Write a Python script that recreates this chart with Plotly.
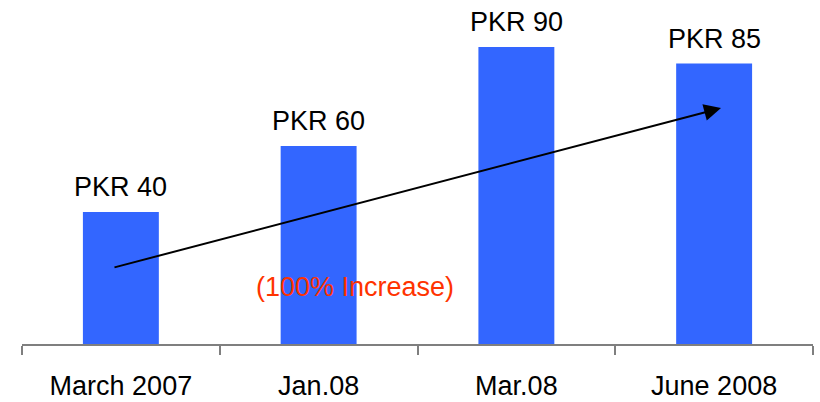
import plotly.graph_objects as go

# Share price by period
categories = ["March 2007", "Jan.08", "Mar.08", "June 2008"]
prices = [40, 60, 90, 85]
price_labels = ["PKR 40", "PKR 60", "PKR 90", "PKR 85"]

# Trend arrow (category index, price units) and its caption
trend_start = (-0.04, 23.1)
trend_end = (3.035, 71.5)
trend_caption = "(100% Increase)"
caption_pos = (1.185, 17.3)

FONT = "Liberation Sans, Arial, sans-serif"
BAR_COLOR = "#3366FF"

fig = go.Figure()
fig.add_trace(go.Bar(
    x=categories,
    y=prices,
    marker=dict(color=BAR_COLOR, line=dict(width=0)),
    hoverinfo="skip",
))

# Value labels above each bar
for cat, val, lab in zip(categories, prices, price_labels):
    fig.add_annotation(
        x=cat, y=val, text=lab, showarrow=False,
        xref="x", yref="y", yanchor="bottom", yshift=8,
        font=dict(family=FONT, size=27, color="#000000"),
    )

# Upward trend arrow
fig.add_annotation(
    x=trend_end[0], y=trend_end[1],
    ax=trend_start[0], ay=trend_start[1],
    xref="x", yref="y", axref="x", ayref="y",
    text="", showarrow=True,
    arrowhead=2, arrowsize=1.7, arrowwidth=2, arrowcolor="#000000",
    standoff=0, startstandoff=0,
)

fig.add_annotation(
    x=caption_pos[0], y=caption_pos[1], text=trend_caption,
    xref="x", yref="y", showarrow=False,
    font=dict(family=FONT, size=27, color="#FF3300"),
)

fig.update_layout(
    width=820, height=402,
    margin=dict(l=22, r=7, t=14, b=58, autoexpand=False),
    paper_bgcolor="white", plot_bgcolor="white",
    showlegend=False,
    bargap=0.616,
    font=dict(family=FONT, size=27, color="#000000"),
)
fig.update_xaxes(
    type="category",
    range=[-0.5, 3.5],
    automargin=False,
    showline=True, linecolor="#7f7f7f", linewidth=2,
    ticks="outside", tickson="boundaries", ticklen=9, tickwidth=2, tickcolor="#7f7f7f",
    ticklabelstandoff=17,
    tickfont=dict(family=FONT, size=27, color="#000000"),
    showgrid=False, zeroline=False, fixedrange=True,
)
fig.update_yaxes(
    range=[0, 100], visible=False, automargin=False,
    showgrid=False, zeroline=False, fixedrange=True,
)

fig.write_html("out.html", config={"displayModeBar": False})
